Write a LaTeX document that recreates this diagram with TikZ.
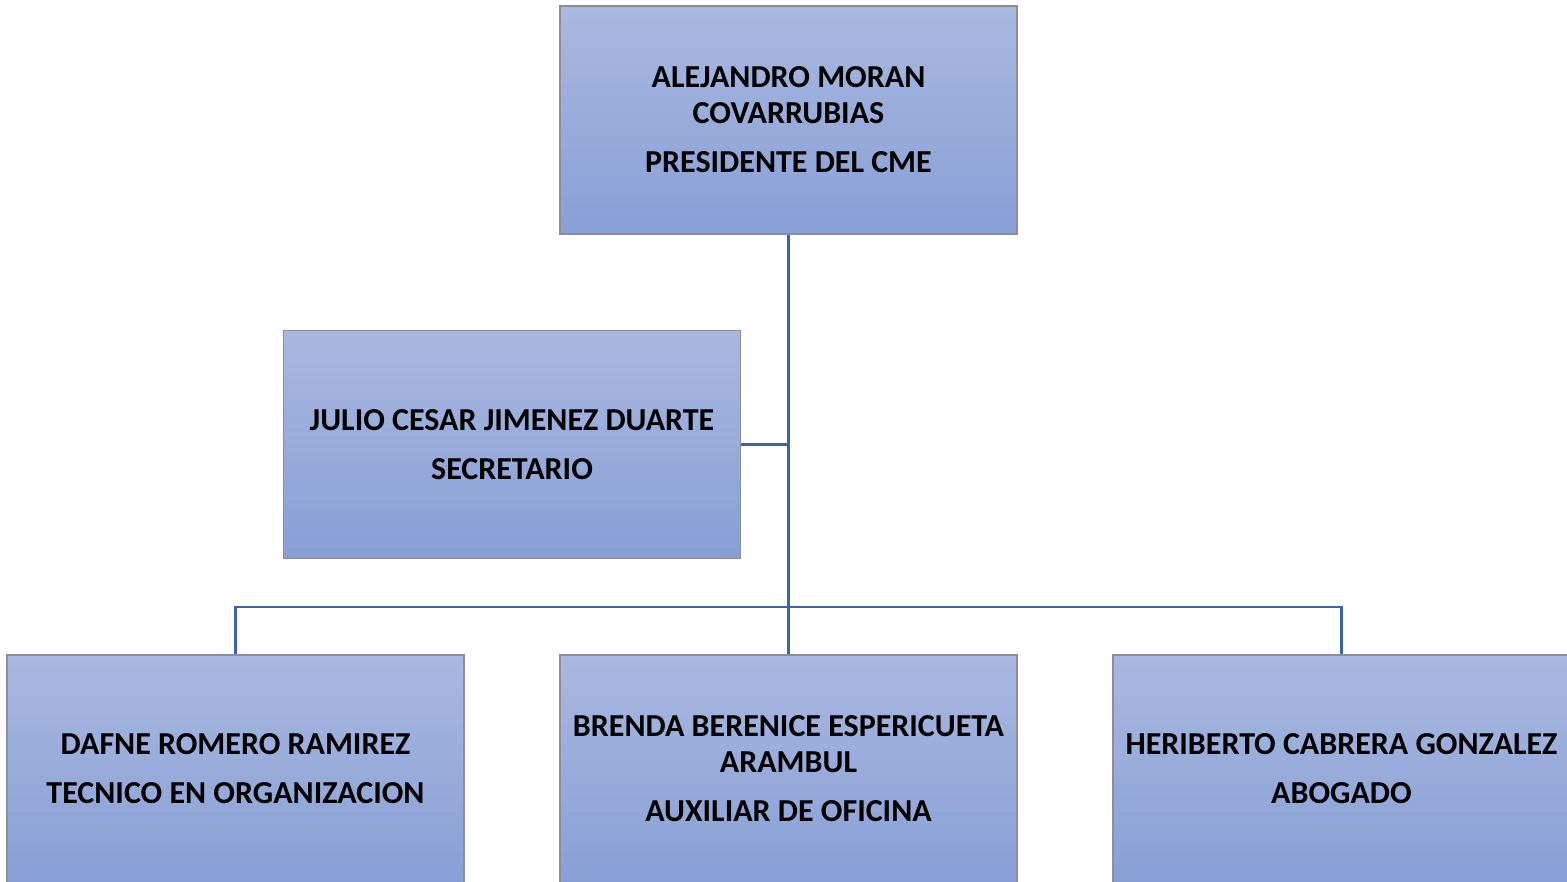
\documentclass[tikz,border=0pt]{standalone}
\usepackage{fontspec}
\setmainfont{Carlito}
\usetikzlibrary{calc}
\definecolor{boxtop}{HTML}{A9B8E0}
\definecolor{boxbottom}{HTML}{889FD6}
\definecolor{boxline}{HTML}{8E8E96}
\definecolor{linkblue}{HTML}{3E64A8}
\tikzset{post/.style={draw=boxline,line width=1.5pt,top color=boxtop,bottom color=boxbottom,align=center,minimum width=457pt,minimum height=228pt,inner sep=0pt,font=\bfseries\fontsize{32}{36}\selectfont},link/.style={draw=linkblue,line width=2.5pt}}

\begin{document}
\begin{tikzpicture}[x=1pt,y=-1pt]
\useasboundingbox (0,0) rectangle (1567,882);
\node[post] (president) at (788.5,120)
 {ALEJANDRO MORAN\\COVARRUBIAS\\[13pt]PRESIDENTE DEL CME};
\node[post] (secretary) at (512,444.5)
 {JULIO CESAR JIMENEZ DUARTE\\[13pt]SECRETARIO};
\node[post] (tecnico) at (235.5,769)
 {DAFNE ROMERO RAMIREZ\\[13pt]TECNICO EN ORGANIZACION};
\node[post] (auxiliar) at (788.5,769)
 {BRENDA BERENICE ESPERICUETA\\ARAMBUL\\[13pt]AUXILIAR DE OFICINA};
\node[post] (abogado) at (1341.5,769)
 {HERIBERTO CABRERA GONZALEZ\\[13pt]ABOGADO};
\coordinate (bus) at (788.5,607);
\draw[link] (president) -- (bus);
\draw[link] (secretary) -- (secretary -| bus);
\draw[link] (tecnico) |- (bus) -| (abogado);
\draw[link] (bus) -- (auxiliar);
\end{tikzpicture}
\end{document}
